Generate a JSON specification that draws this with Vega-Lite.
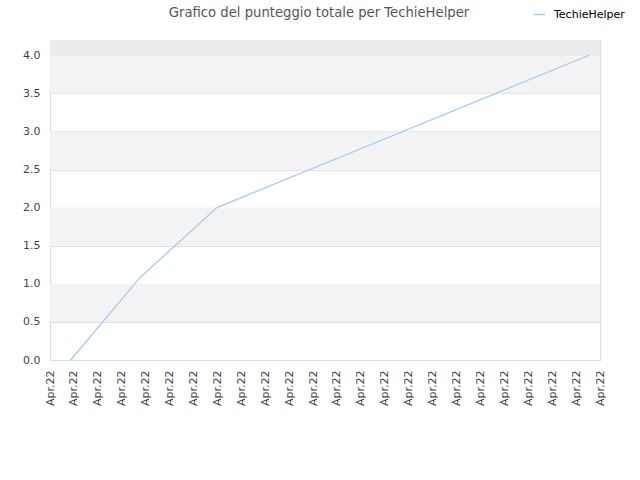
{
  "$schema": "https://vega.github.io/schema/vega-lite/v6.json",
  "width": 550,
  "height": 320,
  "autosize": {"type": "none"},
  "padding": {"left": 50, "top": 40, "right": 40, "bottom": 120},
  "background": "white",
  "title": {
    "text": "Grafico del punteggio totale per TechieHelper",
    "anchor": "middle",
    "frame": "group",
    "dx": -6,
    "offset": -12,
    "font": "DejaVu Sans",
    "fontSize": 13.2,
    "fontWeight": "normal",
    "color": "#555555"
  },
  "config": {
    "view": {"stroke": "#dddddd"},
    "font": "DejaVu Sans",
    "axisY": {
      "title": null,
      "values": [0, 0.5, 1, 1.5, 2, 2.5, 3, 3.5, 4],
      "format": ".1f",
      "ticks": false,
      "labelPadding": 10,
      "labelFontSize": 11,
      "labelColor": "#444444",
      "labelOverlap": false,
      "gridColor": "#e0e0e0",
      "domainColor": "#dddddd",
      "zindex": 1
    }
  },
  "datasets": {
    "bands": [
      {"from": 0.5, "to": 1.0, "kind": "alt"},
      {"from": 1.5, "to": 2.0, "kind": "alt"},
      {"from": 2.5, "to": 3.0, "kind": "alt"},
      {"from": 3.5, "to": 4.0, "kind": "alt"},
      {"from": 4.0, "to": 4.2, "kind": "top"}
    ],
    "score": [
      {"date": "2022-04-01T20:47:00", "score": 0.0, "user": "TechieHelper"},
      {"date": "2022-04-04T18:14:00", "score": 1.08, "user": "TechieHelper"},
      {"date": "2022-04-07T23:31:00", "score": 2.0, "user": "TechieHelper"},
      {"date": "2022-04-23T13:00:00", "score": 4.0, "user": "TechieHelper"}
    ]
  },
  "layer": [
    {
      "data": {"name": "bands"},
      "mark": {"type": "rect"},
      "encoding": {
        "y": {"field": "from", "type": "quantitative", "scale": {"domain": [0, 4.2], "nice": false}},
        "y2": {"field": "to"},
        "fill": {
          "field": "kind",
          "type": "nominal",
          "scale": {"domain": ["alt", "top"], "range": ["#f3f3f3", "#ececec"]},
          "legend": null
        }
      }
    },
    {
      "data": {"name": "score"},
      "mark": {"type": "line", "strokeWidth": 1.2},
      "encoding": {
        "x": {
          "field": "date",
          "type": "temporal",
          "scale": {"domain": ["2022-04-01T00:00:00", "2022-04-24T00:00:00"], "nice": false},
          "axis": {
            "title": null,
            "format": "%b.%y",
            "tickCount": {"interval": "day", "step": 1},
            "labelAngle": 270,
            "labelPadding": 10,
            "labelFontSize": 11,
            "labelColor": "#444444",
            "labelOverlap": false,
            "ticks": false,
            "grid": false,
            "domainColor": "#dddddd"
          }
        },
        "y": {
          "field": "score",
          "type": "quantitative",
          "scale": {"domain": [0, 4.2], "nice": false}
        },
        "stroke": {
          "field": "user",
          "type": "nominal",
          "scale": {"range": ["#9ecaf5"]},
          "legend": {
            "title": null,
            "orient": "none",
            "legendX": 483,
            "legendY": -32,
            "symbolType": "stroke",
            "symbolSize": 120,
            "symbolStrokeWidth": 1.5,
            "labelOffset": 8,
            "labelFontSize": 11,
            "labelColor": "#000000"
          }
        }
      }
    }
  ]
}
